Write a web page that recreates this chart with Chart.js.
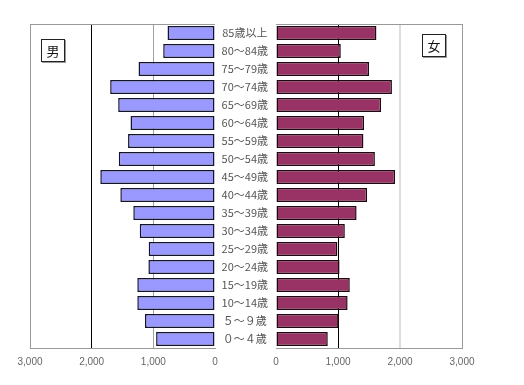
<!DOCTYPE html>
<html>
<head>
<meta charset="utf-8">
<script src="https://cdn.jsdelivr.net/npm/chart.js@4.4.1/dist/chart.umd.min.js"></script>
<style>
  body { margin:0; background:#fff; }
  #wrap { position:relative; width:524px; height:385px; }
  canvas { position:absolute; left:0; top:0; }
  .sex { position:absolute; width:22px; height:21px; border:1px solid #222; box-shadow:1px 1px 0 #999;
         font:13px "Noto Sans CJK JP", sans-serif; line-height:21px; text-align:center; color:#111; background:#fff; }
</style>
</head>
<body>
<div id="wrap">
  <canvas id="male" width="524" height="385"></canvas>
  <canvas id="female" width="524" height="385"></canvas>
  <div class="sex" style="left:41px;top:39px;">男</div>
  <div class="sex" style="left:422px;top:34px;">女</div>
</div>
<script>
var ageLabels = ['85歳以上','80～84歳','75～79歳','70～74歳','65～69歳','60～64歳','55～59歳','50～54歳','45～49歳',
                 '40～44歳','35～39歳','30～34歳','25～29歳','20～24歳','15～19歳','10～14歳','５～９歳','０～４歳'];
var maleData   = [770, 840, 1240, 1700, 1570, 1370, 1410, 1560, 1860, 1535, 1325, 1220, 1075, 1080, 1260, 1260, 1135, 955];
var femaleData = [1620, 1045, 1500, 1870, 1695, 1420, 1410, 1595, 1920, 1470, 1300, 1110, 990, 1025, 1190, 1155, 1010, 835];
var xTicks = [0, 1000, 2000, 3000];

var tickFont = {family:'"Liberation Sans", Arial, sans-serif', size:10};

// top edge of each panel
var topLine = {
  id:'topLine',
  afterDraw: function(chart){
    var a = chart.chartArea, c = chart.ctx;
    c.save();
    c.strokeStyle = '#999'; c.lineWidth = 1;
    c.beginPath(); c.moveTo(a.left, a.top + 0.5); c.lineTo(a.right, a.top + 0.5); c.stroke();
    c.restore();
  }
};

function xScale(reverse, gridColor){
  return {
    type:'linear', min:0, max:3000, reverse:reverse,
    afterBuildTicks: function(s){ s.ticks = xTicks.map(function(v){ return {value:v}; }); },
    afterFit: function(s){ s.height = 37; },
    grid:{ drawTicks:false, color:function(ctx){ return gridColor[ctx.tick.value]; },
           lineWidth:function(ctx){ return ctx.tick.value == 2000 && !reverse ? 2 : 1; } },
    border:{ display:true, color:'#999' },
    ticks:{ padding:8, color:'#666', font:tickFont,
            callback:function(v){ return v.toLocaleString('en-US'); } }
  };
}

new Chart(document.getElementById('male'), {
  type:'bar',
  data:{ labels:ageLabels,
         datasets:[{ data:maleData, backgroundColor:'#9999ff', borderColor:'#14142e', borderWidth:1.5,
                     borderSkipped:false, categoryPercentage:1, barPercentage:0.78 }] },
  options:{
    indexAxis:'y', responsive:false, animation:false,
    layout:{ padding:{ left:30, right:309, top:24, bottom:0 } },
    plugins:{ legend:{display:false}, tooltip:{enabled:false} },
    scales:{
      x: xScale(true, {0:'rgba(0,0,0,0)', 1000:'#a0a0a0', 2000:'#000', 3000:'#999'}),
      y: { display:false }
    }
  },
  plugins:[topLine]
});

new Chart(document.getElementById('female'), {
  type:'bar',
  data:{ labels:ageLabels,
         datasets:[{ data:femaleData, backgroundColor:'#993366', borderColor:'#200810', borderWidth:1.5,
                     borderSkipped:false, categoryPercentage:1, barPercentage:0.78 }] },
  options:{
    indexAxis:'y', responsive:false, animation:false,
    layout:{ padding:{ left:215, right:62, top:24, bottom:0 } },
    plugins:{ legend:{display:false}, tooltip:{enabled:false} },
    scales:{
      x: xScale(false, {0:'rgba(0,0,0,0)', 1000:'#000', 2000:'#ddd', 3000:'#999'}),
      y: { position:'left', afterFit:function(s){ s.width = 61; },
           grid:{ display:false }, border:{ display:false },
           ticks:{ crossAlign:'center', padding:0, color:'#555',
                   font:{ family:'"Noto Sans CJK JP", sans-serif', size:11 } } }
    }
  },
  plugins:[topLine]
});
</script>
</body>
</html>
